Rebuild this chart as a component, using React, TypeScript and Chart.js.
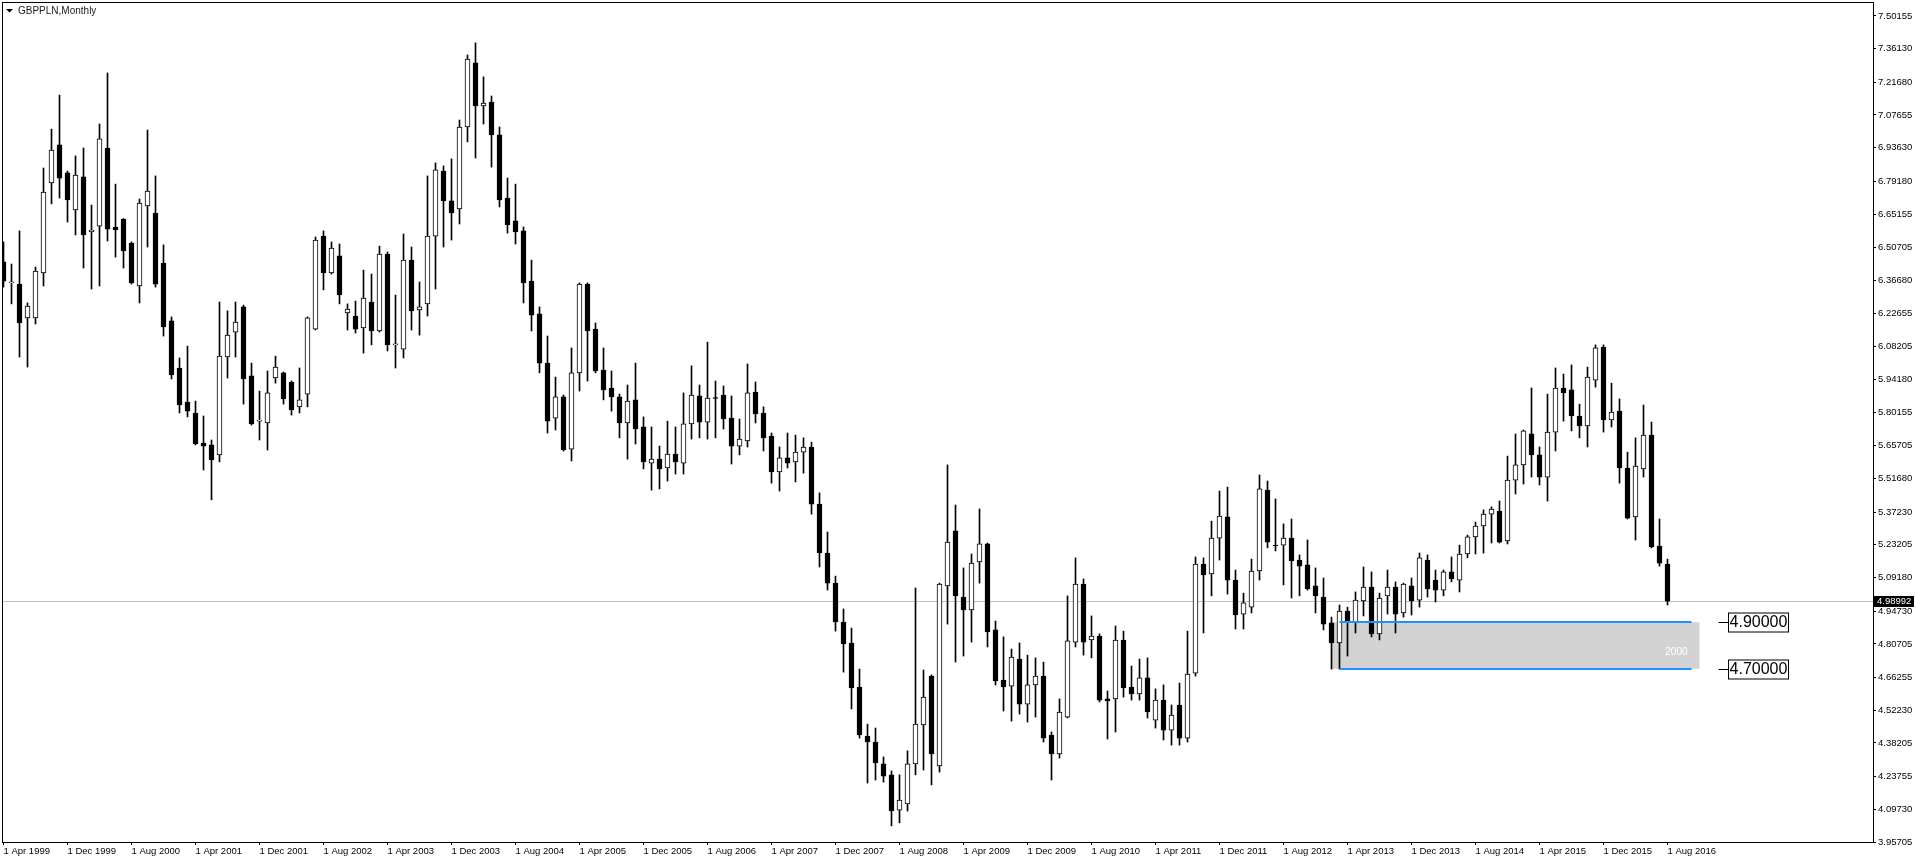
import React, { useEffect, useRef } from "react";
import { Chart, registerables } from "chart.js";
Chart.register(...registerables);

// Monthly GBPPLN candles, first candle = Apr 1999, last = Aug 2016
const opens = [
  6.446, 6.356, 6.351, 6.206, 6.206, 6.399, 6.785, 6.948, 6.828, 6.669,
  6.811, 6.575, 6.600, 6.935, 6.596, 6.630, 6.527, 6.343, 6.686, 6.656,
  6.441, 6.193, 5.991, 5.845, 5.798, 5.669, 5.661, 5.618, 6.038, 6.145,
  6.253, 5.957, 5.763, 5.755, 5.948, 5.970, 5.931, 5.824, 5.879, 6.158,
  6.557, 6.399, 6.472, 6.227, 6.214, 6.163, 6.274, 6.150, 6.480, 6.090,
  6.072, 6.454, 6.240, 6.266, 6.557, 6.836, 6.708, 6.673, 7.025, 7.300,
  7.115, 7.132, 6.991, 6.720, 6.622, 6.579, 6.364, 6.223, 6.012, 5.776,
  5.867, 5.643, 5.970, 6.351, 6.158, 5.982, 5.905, 5.867, 5.755, 5.854,
  5.738, 5.583, 5.600, 5.562, 5.622, 5.583, 5.751, 5.871, 5.759, 5.862,
  5.875, 5.776, 5.656, 5.678, 5.888, 5.798, 5.699, 5.545, 5.605, 5.588,
  5.630, 5.652, 5.407, 5.197, 5.068, 4.901, 4.811, 4.622, 4.412, 4.386,
  4.292, 4.245, 4.094, 4.120, 4.292, 4.459, 4.669, 4.283, 5.056, 5.292,
  5.008, 4.953, 5.159, 5.236, 4.867, 4.652, 4.626, 4.742, 4.549, 4.631,
  4.669, 4.416, 4.335, 4.493, 4.815, 5.064, 4.824, 4.841, 4.571, 4.571,
  4.824, 4.622, 4.592, 4.661, 4.480, 4.566, 4.437, 4.545, 4.403, 4.682,
  5.150, 5.107, 5.261, 5.352, 5.081, 4.935, 4.965, 5.120, 5.467, 5.231,
  5.231, 5.261, 5.167, 5.146, 5.056, 5.008, 4.897, 4.811, 4.948, 4.901,
  4.991, 5.051, 4.850, 5.013, 5.051, 4.940, 5.056, 4.995, 5.167, 5.081,
  5.038, 5.116, 5.081, 5.193, 5.266, 5.313, 5.364, 5.377, 5.249, 5.510,
  5.575, 5.708, 5.618, 5.523, 5.716, 5.905, 5.897, 5.785, 5.742, 5.939,
  6.081, 5.768, 5.806, 5.562, 5.352, 5.558, 5.703, 5.227, 5.150,
];
const highs = [
  6.532, 6.437, 6.579, 6.270, 6.424, 6.849, 7.016, 7.162, 6.836, 6.901,
  6.935, 6.690, 7.038, 7.257, 6.780, 6.632, 6.532, 6.716, 7.012, 6.815,
  6.519, 6.210, 6.034, 6.085, 5.849, 5.785, 5.682, 6.274, 6.236, 6.274,
  6.261, 6.012, 5.892, 5.978, 6.042, 5.974, 5.935, 5.991, 6.210, 6.553,
  6.579, 6.532, 6.523, 6.266, 6.278, 6.411, 6.394, 6.514, 6.489, 6.304,
  6.566, 6.510, 6.360, 6.815, 6.871, 6.858, 6.888, 7.055, 7.334, 7.386,
  7.240, 7.158, 7.025, 6.806, 6.780, 6.596, 6.454, 6.253, 6.128, 5.952,
  5.875, 6.077, 6.356, 6.356, 6.184, 6.077, 5.978, 5.879, 5.918, 6.012,
  5.781, 5.738, 5.656, 5.763, 5.738, 5.884, 6.000, 5.918, 6.102, 5.935,
  5.914, 5.871, 5.772, 6.008, 5.931, 5.824, 5.712, 5.652, 5.712, 5.703,
  5.691, 5.673, 5.455, 5.287, 5.098, 4.957, 4.875, 4.699, 4.463, 4.446,
  4.322, 4.262, 4.245, 4.348, 5.047, 4.695, 4.674, 5.068, 5.575, 5.403,
  5.133, 5.193, 5.386, 5.240, 4.905, 4.837, 4.785, 4.811, 4.759, 4.747,
  4.729, 4.429, 4.571, 5.013, 5.176, 5.086, 4.927, 4.850, 4.605, 4.884,
  4.862, 4.712, 4.742, 4.747, 4.614, 4.631, 4.545, 4.639, 4.862, 5.180,
  5.176, 5.334, 5.463, 5.480, 5.124, 5.025, 5.171, 5.532, 5.506, 5.429,
  5.322, 5.343, 5.189, 5.253, 5.133, 5.090, 4.922, 4.974, 4.965, 5.030,
  5.137, 5.116, 5.025, 5.124, 5.073, 5.068, 5.090, 5.197, 5.189, 5.124,
  5.124, 5.180, 5.231, 5.274, 5.330, 5.382, 5.395, 5.420, 5.613, 5.708,
  5.725, 5.905, 5.652, 5.879, 5.991, 5.965, 6.004, 5.836, 5.995, 6.090,
  6.090, 5.926, 5.858, 5.630, 5.691, 5.832, 5.759, 5.343, 5.171,
];
const lows = [
  6.338, 6.266, 6.038, 5.995, 6.180, 6.343, 6.695, 6.720, 6.617, 6.562,
  6.420, 6.330, 6.343, 6.536, 6.467, 6.420, 6.351, 6.270, 6.510, 6.338,
  6.128, 5.944, 5.798, 5.781, 5.661, 5.553, 5.425, 5.588, 5.948, 6.038,
  5.836, 5.746, 5.682, 5.639, 5.926, 5.836, 5.789, 5.798, 5.824, 6.154,
  6.326, 6.394, 6.266, 6.154, 6.141, 6.055, 6.090, 6.145, 6.064, 5.991,
  6.034, 6.154, 6.132, 6.214, 6.330, 6.510, 6.540, 6.609, 6.961, 6.892,
  7.038, 6.853, 6.682, 6.570, 6.523, 6.270, 6.150, 5.970, 5.712, 5.725,
  5.635, 5.592, 5.892, 5.935, 5.970, 5.854, 5.806, 5.691, 5.600, 5.665,
  5.558, 5.467, 5.472, 5.506, 5.536, 5.536, 5.686, 5.691, 5.686, 5.691,
  5.729, 5.579, 5.618, 5.652, 5.755, 5.635, 5.497, 5.463, 5.562, 5.502,
  5.540, 5.364, 5.137, 5.038, 4.862, 4.686, 4.528, 4.403, 4.210, 4.223,
  4.214, 4.026, 4.039, 4.090, 4.245, 4.266, 4.202, 4.257, 4.892, 4.729,
  4.755, 4.815, 5.068, 4.794, 4.631, 4.519, 4.476, 4.506, 4.472, 4.493,
  4.386, 4.223, 4.317, 4.489, 4.794, 4.759, 4.747, 4.558, 4.399, 4.429,
  4.579, 4.566, 4.566, 4.489, 4.446, 4.395, 4.373, 4.373, 4.386, 4.669,
  4.854, 5.013, 5.167, 5.021, 4.871, 4.871, 4.940, 5.081, 5.219, 5.206,
  5.060, 5.004, 5.013, 5.038, 4.940, 4.867, 4.699, 4.699, 4.755, 4.854,
  4.927, 4.837, 4.824, 4.935, 4.854, 4.922, 4.931, 4.965, 5.008, 4.987,
  5.013, 5.073, 5.030, 5.176, 5.193, 5.197, 5.240, 5.240, 5.236, 5.450,
  5.493, 5.523, 5.489, 5.420, 5.635, 5.763, 5.721, 5.691, 5.652, 5.909,
  5.716, 5.738, 5.497, 5.343, 5.253, 5.523, 5.219, 5.141, 4.974,
];
const closes = [
  6.364, 6.358, 6.184, 6.257, 6.407, 6.746, 6.926, 6.806, 6.712, 6.819,
  6.562, 6.583, 6.974, 6.587, 6.583, 6.493, 6.356, 6.699, 6.750, 6.351,
  6.167, 5.961, 5.832, 5.806, 5.665, 5.656, 5.596, 6.042, 6.132, 6.188,
  5.944, 5.751, 5.765, 5.884, 5.995, 5.858, 5.811, 5.854, 6.206, 6.540,
  6.399, 6.506, 6.304, 6.244, 6.158, 6.291, 6.150, 6.480, 6.090, 6.092,
  6.454, 6.236, 6.253, 6.557, 6.841, 6.708, 6.656, 7.025, 7.317, 7.115,
  7.128, 6.991, 6.712, 6.605, 6.575, 6.356, 6.218, 6.012, 5.763, 5.867,
  5.639, 5.970, 6.351, 6.150, 5.978, 5.897, 5.867, 5.755, 5.849, 5.729,
  5.588, 5.600, 5.558, 5.622, 5.588, 5.751, 5.875, 5.759, 5.862, 5.860,
  5.772, 5.656, 5.686, 5.884, 5.794, 5.691, 5.545, 5.605, 5.583, 5.630,
  5.652, 5.407, 5.197, 5.068, 4.901, 4.807, 4.618, 4.416, 4.386, 4.296,
  4.240, 4.090, 4.137, 4.292, 4.463, 4.579, 4.335, 5.064, 5.244, 5.013,
  4.953, 5.154, 5.236, 4.858, 4.648, 4.622, 4.751, 4.549, 4.631, 4.669,
  4.403, 4.335, 4.515, 4.820, 5.064, 4.815, 4.841, 4.566, 4.562, 4.824,
  4.618, 4.592, 4.661, 4.515, 4.566, 4.437, 4.502, 4.403, 4.678, 5.150,
  5.103, 5.261, 5.356, 5.081, 4.931, 4.983, 5.120, 5.472, 5.244, 5.227,
  5.261, 5.163, 5.141, 5.043, 5.013, 4.892, 4.811, 4.948, 4.901, 4.995,
  5.051, 4.850, 5.004, 5.051, 4.935, 5.064, 4.991, 5.176, 5.043, 5.038,
  5.116, 5.086, 5.193, 5.266, 5.313, 5.364, 5.386, 5.244, 5.510, 5.575,
  5.721, 5.618, 5.523, 5.716, 5.905, 5.884, 5.785, 5.742, 5.952, 6.077,
  5.768, 5.802, 5.562, 5.347, 5.570, 5.703, 5.223, 5.154, 4.990,
];

const xTickIndices = [0, 8, 16, 24, 32, 40, 48, 56, 64, 72, 80, 88, 96, 104, 112, 120, 128, 136, 144, 152, 160, 168, 176, 184, 192, 200, 208];
const xTickLabels = [
  "1 Apr 1999", "1 Dec 1999", "1 Aug 2000", "1 Apr 2001", "1 Dec 2001", "1 Aug 2002", "1 Apr 2003",
  "1 Dec 2003", "1 Aug 2004", "1 Apr 2005", "1 Dec 2005", "1 Aug 2006", "1 Apr 2007", "1 Dec 2007",
  "1 Aug 2008", "1 Apr 2009", "1 Dec 2009", "1 Aug 2010", "1 Apr 2011", "1 Dec 2011", "1 Aug 2012",
  "1 Apr 2013", "1 Dec 2013", "1 Aug 2014", "1 Apr 2015", "1 Dec 2015", "1 Aug 2016",
];
const yTickValues = [
  7.50155, 7.3613, 7.2168, 7.07655, 6.9363, 6.7918, 6.65155, 6.50705, 6.3668, 6.22655, 6.08205, 5.9418, 5.80155,
  5.65705, 5.5168, 5.3723, 5.23205, 5.0918, 4.9473, 4.80705, 4.66255, 4.5223, 4.38205, 4.23755, 4.0973, 3.95705,
];
const yMin = 3.95705;
const yMax = 7.5614;
const lastPrice = 4.98992;
const zoneTop = 4.9;
const zoneBottom = 4.7;
const zoneStart = 166;
const zoneEnd = 212;
const lineStart = 167;
const lineEnd = 211;
const zoneLabel = "2000";
const title = "GBPPLN,Monthly";

const FONT = '"Liberation Sans", Arial, sans-serif';

const overlay = {
  id: "mt4Overlay",
  beforeDatasetsDraw(chart: any) {
    const { ctx, chartArea: a, scales } = chart;
    const x = scales.x, y = scales.y;
    ctx.save();
    const zx1 = x.getPixelForValue(zoneStart);
    const zx2 = x.getPixelForValue(zoneEnd);
    const zy1 = y.getPixelForValue(zoneTop);
    const zy2 = y.getPixelForValue(zoneBottom);
    ctx.fillStyle = "#d3d3d3";
    ctx.fillRect(zx1, zy1, zx2 - zx1, zy2 - zy1);
    ctx.fillStyle = "#ffffff";
    ctx.font = `10px ${FONT}`;
    ctx.textAlign = "right";
    ctx.textBaseline = "middle";
    ctx.fillText(zoneLabel, zx2 - 12, zy2 - 17);
    const py = Math.round(y.getPixelForValue(lastPrice)) + 0.5;
    ctx.strokeStyle = "#c0c0c0";
    ctx.lineWidth = 1;
    ctx.beginPath();
    ctx.moveTo(a.left, py);
    ctx.lineTo(a.right, py);
    ctx.stroke();
    ctx.restore();
  },
  afterDatasetsDraw(chart: any) {
    const { ctx, scales } = chart;
    const x = scales.x, y = scales.y;
    ctx.save();
    const lx1 = x.getPixelForValue(lineStart);
    const lx2 = x.getPixelForValue(lineEnd);
    ctx.strokeStyle = "#1e90ff";
    ctx.lineWidth = 2;
    for (const lv of [zoneTop, zoneBottom]) {
      const ly = Math.round(y.getPixelForValue(lv));
      ctx.beginPath();
      ctx.moveTo(lx1, ly);
      ctx.lineTo(lx2, ly);
      ctx.stroke();
    }
    const zx2 = x.getPixelForValue(zoneEnd);
    ctx.font = `16px ${FONT}`;
    ctx.textAlign = "center";
    ctx.textBaseline = "middle";
    for (const lv of [zoneTop, zoneBottom]) {
      const ly = Math.round(y.getPixelForValue(lv)) + 0.5;
      const bx = Math.round(zx2 + 28) + 0.5;
      ctx.strokeStyle = "#000";
      ctx.lineWidth = 1;
      ctx.beginPath();
      ctx.moveTo(bx - 10, ly);
      ctx.lineTo(bx, ly);
      ctx.stroke();
      ctx.fillStyle = "#fff";
      ctx.fillRect(bx, ly - 9.5, 60, 19);
      ctx.strokeRect(bx, ly - 9.5, 60, 19);
      ctx.fillStyle = "#000";
      ctx.fillText(lv.toFixed(5), bx + 30, ly + 0.5);
    }
    ctx.restore();
  },
  afterDraw(chart: any) {
    const { ctx, chartArea: a, scales } = chart;
    const y = scales.y;
    ctx.save();
    ctx.strokeStyle = "#000";
    ctx.lineWidth = 1;
    ctx.strokeRect(a.left + 0.5, a.top + 0.5, a.right - a.left, a.bottom - a.top);
    ctx.fillStyle = "#000";
    ctx.beginPath();
    ctx.moveTo(6, 9);
    ctx.lineTo(13, 9);
    ctx.lineTo(9.5, 12.5);
    ctx.closePath();
    ctx.fill();
    ctx.font = `10px ${FONT}`;
    ctx.textAlign = "left";
    ctx.textBaseline = "middle";
    ctx.fillStyle = "#1a1a1a";
    ctx.fillText(title, 18, 11);
    const py = Math.round(y.getPixelForValue(lastPrice));
    ctx.fillStyle = "#000";
    ctx.fillRect(a.right + 1, py - 5, 40, 11);
    ctx.fillStyle = "#fff";
    ctx.font = `9.5px ${FONT}`;
    ctx.fillText(lastPrice.toFixed(5), a.right + 4, py + 0.5);
    ctx.restore();
  },
};

export default function App() {
  const ref = useRef<HTMLCanvasElement>(null);
  useEffect(() => {
    document.body.style.margin = "0";
    const idx = opens.map((_, i) => i);
    const chart = new Chart(ref.current as HTMLCanvasElement, {
      type: "bar",
      data: {
        datasets: [
          {
            label: "wicks",
            data: idx.map((i) => ({ x: i, y: [lows[i], highs[i]] })) as any,
            backgroundColor: "#000",
            borderWidth: 0,
            barThickness: 1,
            grouped: false,
            order: 2,
          } as any,
          {
            label: "bodies",
            data: idx.map((i) => ({ x: i, y: [opens[i], closes[i]] })) as any,
            backgroundColor: idx.map((i) => (closes[i] >= opens[i] ? "#ffffff" : "#000000")),
            borderColor: "#000",
            borderWidth: 1,
            borderSkipped: false,
            barThickness: 5,
            minBarLength: 1,
            grouped: false,
            order: 1,
          } as any,
        ],
      },
      options: {
        responsive: false,
        animation: false,
        devicePixelRatio: 1,
        layout: { padding: { left: 2, top: 2, right: 0, bottom: 0 } },
        plugins: { legend: { display: false }, tooltip: { enabled: false } },
        scales: {
          x: {
            type: "linear",
            offset: false,
            min: -0.1875,
            max: -0.1875 + 1871 / 8,
            position: "bottom",
            grid: { display: true, offset: false, drawOnChartArea: false, drawTicks: true, tickLength: 3, color: "#000" },
            border: { display: false },
            ticks: {
              autoSkip: false,
              maxRotation: 0,
              minRotation: 0,
              align: "start",
              padding: 1,
              color: "#000",
              font: { family: FONT, size: 9.5 },
              callback: (v: any) => {
                const k = xTickIndices.indexOf(Number(v));
                return k >= 0 ? xTickLabels[k] : "";
              },
            },
            afterBuildTicks: (s: any) => {
              s.ticks = xTickIndices.map((v) => ({ value: v }));
            },
            afterFit: (s: any) => {
              s.height = 24;
              s.paddingLeft = 0;
              s.paddingRight = 0;
            },
          },
          y: {
            type: "linear",
            position: "right",
            min: yMin,
            max: yMax,
            grid: { display: true, drawOnChartArea: false, drawTicks: true, tickLength: 3, color: "#000" },
            border: { display: false },
            ticks: {
              autoSkip: false,
              padding: 2,
              color: "#000",
              font: { family: FONT, size: 9.5 },
              callback: (v: any) => Number(v).toFixed(5),
            },
            afterBuildTicks: (s: any) => {
              s.ticks = yTickValues.map((v) => ({ value: v }));
            },
            afterFit: (s: any) => {
              s.width = 43;
              s.paddingTop = 0;
              s.paddingBottom = 0;
            },
          },
        },
      },
      plugins: [overlay],
    } as any);
    return () => chart.destroy();
  }, []);
  return (
    <div style={{ position: "fixed", left: 0, top: 0, width: 1916, height: 866, background: "#fff" }}>
      <canvas ref={ref} width={1916} height={866} style={{ display: "block", width: 1916, height: 866 }} />
    </div>
  );
}
